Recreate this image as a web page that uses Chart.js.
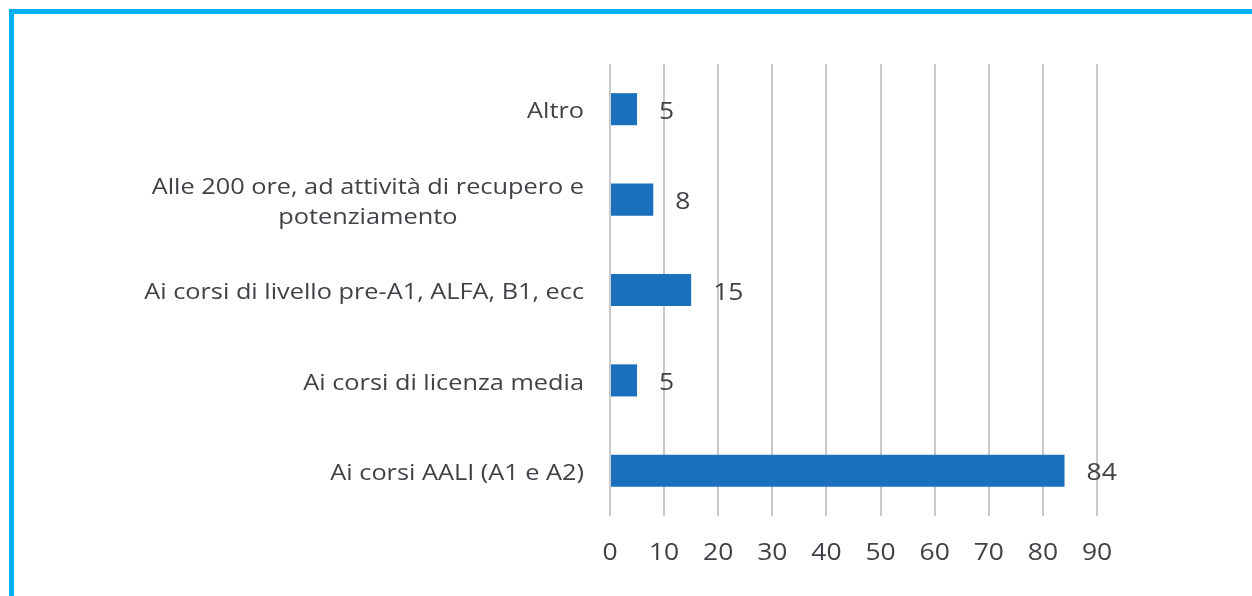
<!DOCTYPE html>
<html>
<head>
<meta charset="utf-8">
<script src="https://cdn.jsdelivr.net/npm/chart.js@4"></script>
<style>
  html, body { margin: 0; padding: 0; background: #fff; }
  #wrap { position: relative; width: 1252px; height: 596px; overflow: hidden; }
  #frame {
    position: absolute; left: 9px; top: 9px; right: -10px; bottom: -10px;
    border-top: 5px solid #00b0f0; border-left: 5px solid #00b0f0;
  }
  canvas { position: absolute; left: 0; top: 0; }
</style>
</head>
<body>
<div id="wrap">
  <div id="frame"></div>
  <canvas id="chart" width="1252" height="596"></canvas>
</div>
<script>
const categories = [
  'Altro',
  ['Alle 200 ore, ad attività di recupero e', 'potenziamento'],
  'Ai corsi di livello pre-A1, ALFA, B1, ecc',
  'Ai corsi di licenza media',
  'Ai corsi AALI (A1 e A2)'
];
const values = [5, 8, 15, 5, 84];
const xTicks = [0, 10, 20, 30, 40, 50, 60, 70, 80, 90];

const textColor = '#3f4246';
const fontFamily = '"Open Sans", sans-serif';
const SX = 1.15; // il testo dell'originale è un po' allargato

function drawText(ctx, str, x, y, align) {
  ctx.save();
  ctx.translate(x, y);
  ctx.scale(SX, 1);
  ctx.textAlign = align;
  ctx.fillText(str, 0, 0);
  ctx.restore();
}

// etichette degli assi e dei valori disegnate a mano
const labelsPlugin = {
  id: 'labelsPlugin',
  afterDraw(chart) {
    const ctx = chart.ctx;
    const xs = chart.scales.x;
    const ys = chart.scales.y;
    const meta = chart.getDatasetMeta(0);
    ctx.save();
    ctx.fillStyle = textColor;
    ctx.textBaseline = 'middle';

    // categorie
    ctx.font = '22px ' + fontFamily;
    const right = xs.left - 26;
    categories.forEach((lab, i) => {
      const y = ys.getPixelForTick(i) + 3;
      if (Array.isArray(lab)) {
        const w = Math.max(...lab.map(l => ctx.measureText(l).width)) * SX;
        const cx = right - w / 2;
        const lh = 30;
        const y0 = y - (lab.length - 1) * lh / 2;
        lab.forEach((l, k) => drawText(ctx, l, cx, y0 + k * lh, 'center'));
      } else {
        drawText(ctx, lab, right, y, 'right');
      }
    });

    // tick asse x
    ctx.font = '23px ' + fontFamily;
    xTicks.forEach(v => drawText(ctx, String(v), xs.getPixelForValue(v), 553, 'center'));

    // valori
    meta.data.forEach((bar, i) => {
      drawText(ctx, String(values[i]), bar.x + 22, bar.y + 3, 'left');
    });
    ctx.restore();
  }
};

new Chart(document.getElementById('chart').getContext('2d'), {
  type: 'bar',
  data: {
    labels: categories,
    datasets: [{
      data: values,
      backgroundColor: '#1a70bd',
      borderWidth: 0,
      barPercentage: 1,
      categoryPercentage: 0.355
    }]
  },
  options: {
    indexAxis: 'y',
    responsive: false,
    animation: false,
    layout: { padding: { top: 64, right: 155, bottom: 0, left: 0 } },
    plugins: { legend: { display: false }, tooltip: { enabled: false } },
    scales: {
      x: {
        min: 0,
        max: 90,
        afterBuildTicks(scale) { scale.ticks = xTicks.map(v => ({ value: v })); },
        afterFit(scale) { scale.height = 80; },
        grid: { color: '#c9c9c9', lineWidth: 2, drawTicks: false },
        border: { display: false },
        ticks: { display: false }
      },
      y: {
        afterFit(scale) { scale.width = 610; },
        grid: { display: false },
        border: { display: false },
        ticks: { display: false, autoSkip: false }
      }
    }
  },
  plugins: [labelsPlugin]
});
</script>
</body>
</html>
